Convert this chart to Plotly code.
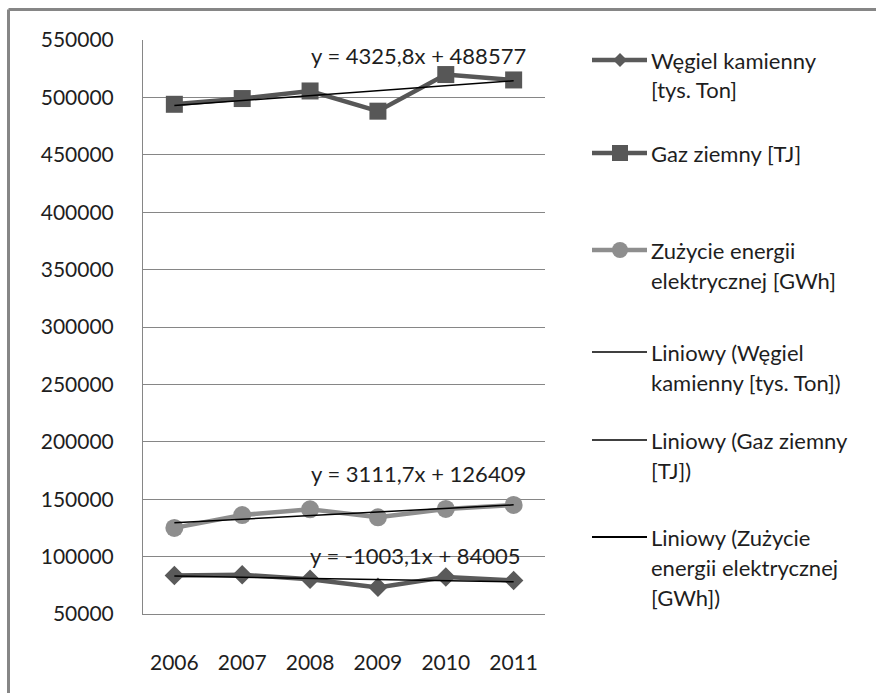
import plotly.graph_objects as go

# --- data -------------------------------------------------------------
years = ["2006", "2007", "2008", "2009", "2010", "2011"]
coal = [83500, 84200, 80300, 73200, 82300, 79200]          # Węgiel kamienny [tys. Ton]
gas = [494000, 499000, 505600, 488000, 519900, 515200]      # Gaz ziemny [TJ]
power = [125000, 136200, 141200, 134200, 141500, 145000]    # Zużycie energii elektrycznej [GWh]

series_names = ["Węgiel kamienny [tys. Ton]", "Gaz ziemny [TJ]",
                "Zużycie energii elektrycznej [GWh]"]

# linear trend equations y = a*x + b, x = 1..6
trend_slope = [-1003.1, 4325.8, 3111.7]
trend_intercept = [84005, 488577, 126409]

# --- layout constants (pixels) ---------------------------------------
W, H = 876, 693
L, R, T, B = 143, 545, 40, 614
FONT = "Lato"
TXT = "#1e1e1e"
GRID = "#868686"


def px(x):
    return (x - L) / (R - L)


def py(y):
    return (B - y) / (B - T)


fig = go.Figure()

colors = ["#5a5a5a", "#575757", "#8e8e8e"]
symbols = ["diamond", "square", "circle"]
msizes = [15, 17, 18]
values = [coal, gas, power]

for name, vals, c, s, ms in zip(series_names, values, colors, symbols, msizes):
    fig.add_trace(go.Scatter(
        x=years, y=vals, name=name, mode="lines+markers",
        line=dict(color=c, width=4.5),
        marker=dict(symbol=s, size=ms, color=c, line=dict(width=0)),
        showlegend=False,
    ))


def fmt(v):
    s = f"{v:.1f}".replace(".", ",")
    return s[:-2] if s.endswith(",0") else s


label_pos = [(415, 555), (418, 55), (418, 473)]
for a, b, (lx, ly) in zip(trend_slope, trend_intercept, label_pos):
    ty = [a * i + b for i in range(1, len(years) + 1)]
    fig.add_trace(go.Scatter(
        x=years, y=ty, mode="lines", line=dict(color="#000000", width=1.5),
        showlegend=False, hoverinfo="skip",
    ))
    fig.add_annotation(
        x=px(lx), y=py(ly), xref="paper", yref="paper",
        text=f"y = {fmt(a)}x + {fmt(b)}", showarrow=False,
        xanchor="center", yanchor="middle",
        font=dict(family=FONT, size=22, color=TXT),
    )

# --- legend drawn on the right ---------------------------------------
shapes = []
annotations = []

# chart frame (left and top edges)
shapes.append(dict(type="line", xref="paper", yref="paper",
                   x0=px(8.5), x1=px(8.5), y0=py(9.5), y1=py(H + 5),
                   line=dict(color=GRID, width=3)))
shapes.append(dict(type="line", xref="paper", yref="paper",
                   x0=px(8.5), x1=px(W + 5), y0=py(9.5), y1=py(9.5),
                   line=dict(color=GRID, width=3)))

legend_entries = [
    (["Węgiel kamienny", "[tys. Ton]"], 60, "diamond", colors[0], 4.5),
    (["Gaz ziemny [TJ]"], 153, "square", colors[1], 4.5),
    (["Zużycie energii", "elektrycznej [GWh]"], 250, "circle", colors[2], 4.5),
    (["Liniowy (Węgiel", "kamienny [tys. Ton])"], 352, None, "#000000", 1.3),
    (["Liniowy (Gaz ziemny", "[TJ])"], 440, None, "#000000", 1.3),
    (["Liniowy (Zużycie", "energii elektrycznej", "[GWh])"], 537, None, "#000000", 1.8),
]
LINE_GAP = 30
gx0, gx1, gxc, tx = 592, 647, 620, 649

for lines, y0, sym, col, lw in legend_entries:
    shapes.append(dict(type="line", xref="paper", yref="paper",
                       x0=px(gx0), x1=px(gx1), y0=py(y0), y1=py(y0),
                       line=dict(color=col, width=lw)))
    if sym == "square":
        r = 8
        shapes.append(dict(type="rect", xref="paper", yref="paper",
                           x0=px(gxc - r), x1=px(gxc + r), y0=py(y0 - r), y1=py(y0 + r),
                           fillcolor=col, line=dict(width=0)))
    elif sym == "circle":
        r = 8
        shapes.append(dict(type="circle", xref="paper", yref="paper",
                           x0=px(gxc - r), x1=px(gxc + r), y0=py(y0 - r), y1=py(y0 + r),
                           fillcolor=col, line=dict(width=0)))
    elif sym == "diamond":
        r = 7
        path = (f"M {px(gxc - r)},{py(y0)} L {px(gxc)},{py(y0 - r)} "
                f"L {px(gxc + r)},{py(y0)} L {px(gxc)},{py(y0 + r)} Z")
        shapes.append(dict(type="path", xref="paper", yref="paper", path=path,
                           fillcolor=col, line=dict(width=0)))
    for k, t in enumerate(lines):
        annotations.append(dict(
            x=px(tx), y=py(y0 + k * LINE_GAP), xref="paper", yref="paper",
            text=t, showarrow=False, xanchor="left", yanchor="middle",
            font=dict(family=FONT, size=22, color=TXT),
        ))

for a in annotations:
    fig.add_annotation(**a)

fig.update_layout(
    width=W, height=H, autosize=False,
    margin=dict(l=L, r=W - R, t=T, b=H - B, pad=0),
    paper_bgcolor="white", plot_bgcolor="white",
    shapes=shapes,
    font=dict(family=FONT, size=21, color=TXT),
    xaxis=dict(
        type="category", showgrid=False, showline=True, linecolor=GRID,
        linewidth=1, ticks="", ticklabelstandoff=30, zeroline=False,
        tickfont=dict(family=FONT, size=21, color=TXT), fixedrange=True,
    ),
    yaxis=dict(
        range=[50000, 550000], tick0=50000, dtick=50000, showgrid=True,
        gridcolor=GRID, gridwidth=1, showline=True, linecolor=GRID,
        linewidth=1, ticks="", ticklabelstandoff=24, zeroline=False,
        tickformat="d", tickfont=dict(family=FONT, size=21, color=TXT),
        fixedrange=True,
    ),
)

fig.write_html("out.html")
